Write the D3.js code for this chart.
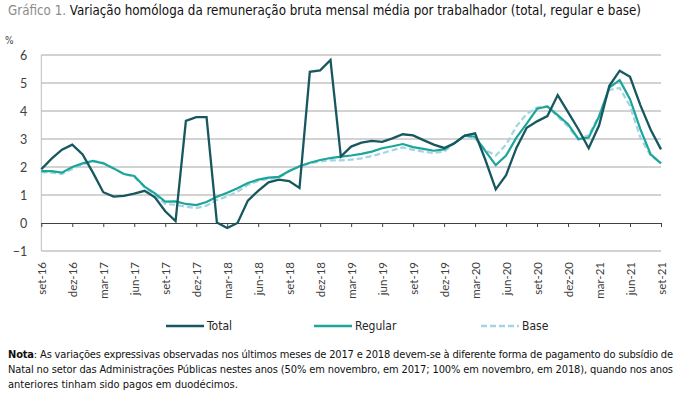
<!DOCTYPE html>
<html>
<head>
<meta charset="utf-8">
<script src="https://cdn.jsdelivr.net/npm/d3@7"></script>
<style>
  body { margin: 0; background: #fff; }
  svg { display: block; font-family: "Liberation Sans Narrow", "DejaVu Sans Condensed", Lato, sans-serif; }
</style>
</head>
<body>
<div id="chart"></div>
<script>
// monthly labels, set-16 .. set-21
var months = ["jan","fev","mar","abr","mai","jun","jul","ago","set","out","nov","dez"];
var periods = [];
for (var y = 16; y <= 21; y++) {
    for (var m = 0; m < 12; m++) {
        if ((y == 16 && m < 8) || (y == 21 && m > 8)) continue;
        periods.push(months[m] + "-" + y);
    }
}

var total = [1.92, 2.3, 2.62, 2.8, 2.45, 1.8, 1.1, 0.94, 0.97, 1.05,
    1.15, 0.92, 0.42, 0.07, 3.65, 3.78, 3.78, 0.02, -0.18, 0.0,
    0.8, 1.15, 1.45, 1.55, 1.5, 1.25, 5.4, 5.45, 5.82, 2.37,
    2.73, 2.87, 2.93, 2.9, 3.02, 3.17, 3.13, 2.96, 2.8, 2.68,
    2.85, 3.12, 3.2, 2.25, 1.2, 1.71, 2.68, 3.4, 3.63, 3.82,
    4.57, 3.96, 3.35, 2.67, 3.48, 4.9, 5.44, 5.22, 4.21, 3.33, 2.63];

var regular = [1.85, 1.85, 1.8, 2.0, 2.13, 2.22, 2.13, 1.95, 1.75, 1.68,
    1.3, 1.06, 0.76, 0.77, 0.68, 0.64, 0.75, 0.94, 1.08, 1.24,
    1.43, 1.55, 1.62, 1.65, 1.86, 2.03, 2.15, 2.25, 2.32, 2.37,
    2.41, 2.47, 2.55, 2.67, 2.74, 2.82, 2.71, 2.65, 2.58, 2.63,
    2.85, 3.12, 3.08, 2.57, 2.07, 2.41, 3.05, 3.55, 4.08, 4.16,
    3.85, 3.53, 3.0, 3.05, 3.8, 4.84, 5.1, 4.42, 3.35, 2.45, 2.13];

var base = [1.82, 1.8, 1.75, 1.93, 2.08, 2.2, 2.15, 1.95, 1.75, 1.65,
    1.28, 1.0, 0.68, 0.65, 0.58, 0.53, 0.62, 0.82, 0.95, 1.12,
    1.36, 1.5, 1.58, 1.62, 1.85, 2.02, 2.13, 2.2, 2.24, 2.24,
    2.26, 2.31, 2.39, 2.49, 2.6, 2.7, 2.61, 2.55, 2.5, 2.55,
    2.85, 3.12, 3.03, 2.6, 2.41, 2.8, 3.45, 3.9, 4.12, 4.16,
    3.8, 3.45, 2.98, 3.14, 3.83, 4.75, 4.82, 4.18, 3.05, 2.4, 2.14];

var yTicks = [-1, 0, 1, 2, 3, 4, 5, 6];

var seriesNames = ["Total", "Regular", "Base"];
var seriesColors = ["#17575f", "#1ba59b", "#a3d4df"];

var width = 681, height = 394;
var svg = d3.select("#chart").append("svg")
    .attr("width", width)
    .attr("height", height);

var x = d3.scaleLinear().domain([0, periods.length - 1]).range([41.3, 661]);
var yScale = d3.scaleLinear().domain([-1, 6]).range([251, 55]);

// title
var title = svg.append("text").attr("x", 8).attr("y", 15).style("font-size", "13.5px");
title.append("tspan").attr("fill", "#8c8c8c").text("Gráfico 1. ");
title.append("tspan").attr("fill", "#111").text("Variação homóloga da remuneração bruta mensal média por trabalhador (total, regular e base)");
title.attr("textLength", 633).attr("lengthAdjust", "spacingAndGlyphs");

svg.append("text").attr("x", 5).attr("y", 44)
    .style("font-size", "10px").attr("fill", "#404040").text("%");

// gridlines
svg.append("g").selectAll("line")
    .data(yTicks.filter(function(d) { return d != 0; }))
    .enter().append("line")
    .attr("x1", 41.3).attr("x2", 661)
    .attr("y1", function(d) { return yScale(d); })
    .attr("y2", function(d) { return yScale(d); })
    .attr("stroke", "#a6a6a6").attr("stroke-width", 1);

// left axis line
svg.append("line")
    .attr("x1", 41.3).attr("x2", 41.3)
    .attr("y1", yScale(6)).attr("y2", yScale(-1))
    .attr("stroke", "#bfbfbf");

// y axis labels
var yAxis = d3.axisLeft(yScale).tickValues(yTicks).tickSize(0).tickPadding(14).tickFormat(d3.format("d"));
var gy = svg.append("g").attr("transform", "translate(41.3,0)").call(yAxis);
gy.select(".domain").remove();
gy.selectAll("text").style("font-size", "12.5px").attr("fill", "#404040")
    .style("font-family", "Lato, 'DejaVu Sans', sans-serif");

// x axis at zero
var tickIdx = d3.range(0, periods.length, 3);
var xAxis = d3.axisBottom(x).tickValues(tickIdx).tickSize(4)
    .tickFormat(function(d) { return periods[d]; });
var gx = svg.append("g").attr("transform", "translate(0," + yScale(0) + ")").call(xAxis);
gx.select(".domain").attr("stroke", "#404040").attr("d", "M41.3,0.5H661");
gx.selectAll(".tick line").attr("stroke", "#404040");
gx.selectAll("text")
    .style("font-size", "11.5px").attr("fill", "#404040")
    .style("font-family", "Lato, 'DejaVu Sans', sans-serif")
    .attr("text-anchor", "end")
    .attr("transform", "rotate(-90)")
    .attr("x", -(262 - yScale(0)))
    .attr("y", 0)
    .attr("dy", "0.35em");

// lines
var line = d3.line()
    .x(function(d, i) { return x(i); })
    .y(function(d) { return yScale(d); });

svg.append("path").datum(base)
    .attr("d", line).attr("fill", "none")
    .attr("stroke", seriesColors[2]).attr("stroke-width", 2.2)
    .attr("stroke-dasharray", "6,3");

svg.append("path").datum(regular)
    .attr("d", line).attr("fill", "none")
    .attr("stroke", seriesColors[1]).attr("stroke-width", 2.2);

svg.append("path").datum(total)
    .attr("d", line).attr("fill", "none")
    .attr("stroke", seriesColors[0]).attr("stroke-width", 2.3);

// legend
var legendX = [166, 314, 481];
var legend = svg.append("g").selectAll("g")
    .data(seriesNames)
    .enter().append("g")
    .attr("transform", function(d, i) { return "translate(" + legendX[i] + ",326)"; });
legend.append("line")
    .attr("x1", 0).attr("x2", 38)
    .attr("stroke", function(d, i) { return seriesColors[i]; })
    .attr("stroke-width", 2.5)
    .attr("stroke-dasharray", function(d, i) { return i == 2 ? "6,3" : null; });
legend.append("text")
    .attr("x", 41).attr("dy", "0.35em")
    .style("font-size", "12px").attr("fill", "#262626")
    .text(function(d) { return d; });

// note
var noteLines = [
    "As variações expressivas observadas nos últimos meses de 2017 e 2018 devem-se à diferente forma de pagamento do subsídio de",
    "Natal no setor das Administrações Públicas nestes anos (50% em novembro, em 2017; 100% em novembro, em 2018), quando nos anos",
    "anteriores tinham sido pagos em duodécimos."
];
var n1 = svg.append("text").attr("x", 8).attr("y", 358).style("font-size", "11px").attr("fill", "#111")
    .attr("textLength", 665).attr("lengthAdjust", "spacing");
n1.append("tspan").style("font-weight", "bold").text("Nota");
n1.append("tspan").text(": " + noteLines[0]);
svg.append("text").attr("x", 8).attr("y", 373).style("font-size", "11px").attr("fill", "#111")
    .attr("textLength", 665).attr("lengthAdjust", "spacing").text(noteLines[1]);
svg.append("text").attr("x", 8).attr("y", 388).style("font-size", "11px").attr("fill", "#111")
    .text(noteLines[2]);
</script>
</body>
</html>
